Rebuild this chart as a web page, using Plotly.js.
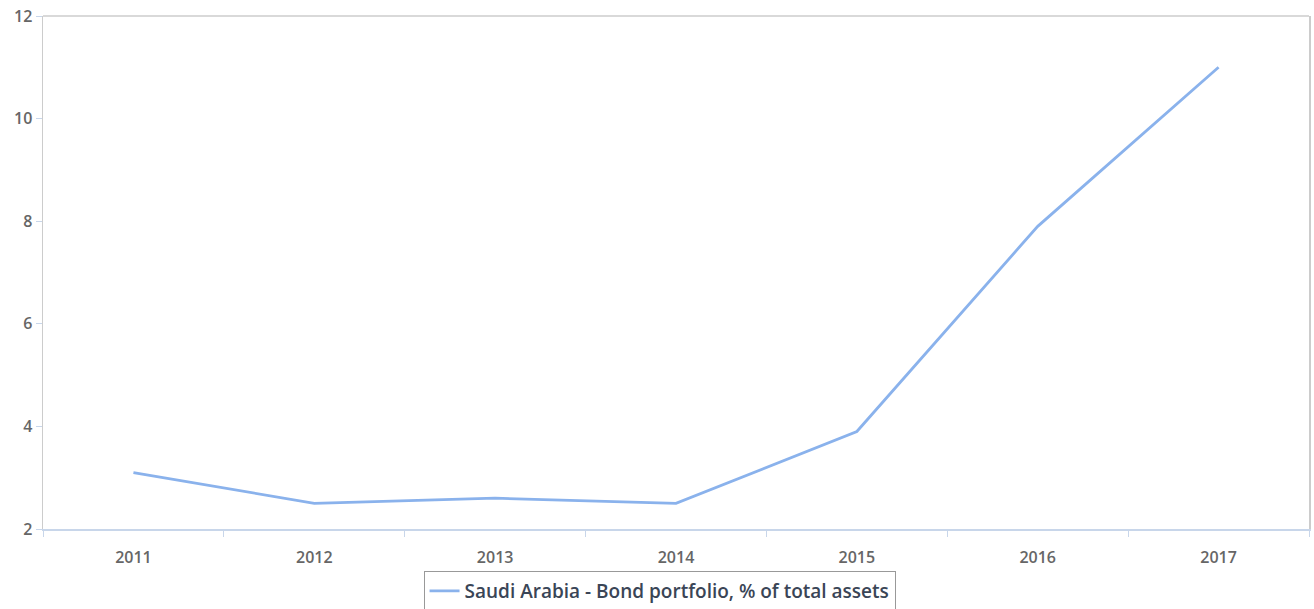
<!DOCTYPE html>
<html>
<head>
<meta charset="utf-8">
<script src="https://cdn.plot.ly/plotly-3.0.1.min.js"></script>
<style>html,body{margin:0;padding:0;background:#fff;}#chart{width:1314px;height:609px;}</style>
</head>
<body>
<div id="chart"></div>
<script>
const years = ["2011","2012","2013","2014","2015","2016","2017"];
const bondPortfolioPct = [3.1, 2.5, 2.6, 2.5, 3.9, 7.9, 11.0];
const seriesName = "Saudi Arabia - Bond portfolio, % of total assets";
const yTickVals = [2, 4, 6, 8, 10, 12];

const trace = {
  x: years,
  y: bondPortfolioPct,
  type: "scatter",
  mode: "lines",
  name: seriesName,
  line: {color: "#8ab2ec", width: 2.8}
};

const tickFont = {family: "Open Sans, sans-serif", size: 16, color: "#666666", weight: 600};

const layout = {
  width: 1314,
  height: 609,
  margin: {l: 43, r: 5, t: 16, b: 80, autoexpand: false},
  paper_bgcolor: "#ffffff",
  plot_bgcolor: "#ffffff",
  showlegend: true,
  legend: {
    orientation: "h",
    x: 0.487, xanchor: "center",
    y: -0.082, yanchor: "top",
    bordercolor: "#999999",
    borderwidth: 1,
    itemwidth: 30,
    font: {family: "Open Sans, sans-serif", size: 19, color: "#3a4556", weight: 600}
  },
  xaxis: {
    type: "category",
    range: [-0.5, 6.5],
    automargin: false,
    showgrid: false,
    zeroline: false,
    showline: true,
    linecolor: "#c8d6ea",
    linewidth: 1.5,
    ticks: "outside",
    tickson: "boundaries",
    ticklen: 6,
    tickcolor: "#c8d6ea",
    tickfont: tickFont,
    ticklabelstandoff: 13,
    fixedrange: true
  },
  yaxis: {
    range: [2, 12],
    tickvals: yTickVals,
    automargin: false,
    showgrid: false,
    zeroline: false,
    showline: true,
    mirror: true,
    linecolor: "#cccccc",
    linewidth: 1.5,
    ticks: "outside",
    ticklen: 6,
    tickcolor: "#c8d6ea",
    tickfont: tickFont,
    fixedrange: true
  },
  shapes: [{
    type: "line", xref: "paper", yref: "paper",
    x0: 0, x1: 1, y0: 1, y1: 1,
    line: {color: "#cccccc", width: 1.5}
  }]
};

Plotly.newPlot("chart", [trace], layout, {displayModeBar: false, staticPlot: true});
</script>
</body>
</html>
